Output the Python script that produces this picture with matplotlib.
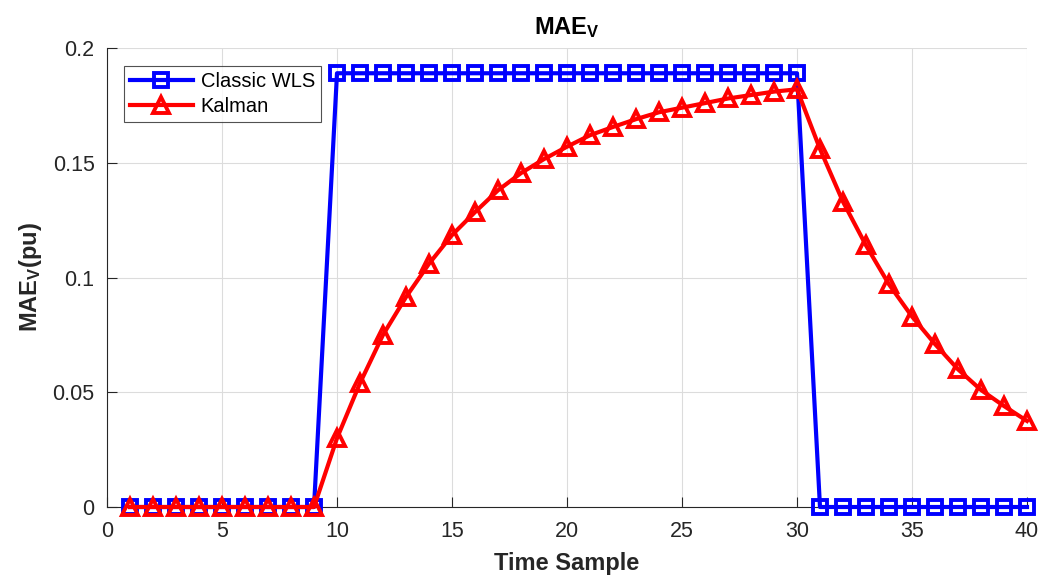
import matplotlib
matplotlib.use("Agg")
import matplotlib.pyplot as plt

plt.rcParams['font.family'] = ['Liberation Sans', 'DejaVu Sans']
plt.rcParams['mathtext.fontset'] = 'custom'
plt.rcParams['mathtext.rm'] = 'Liberation Sans'
plt.rcParams['mathtext.bf'] = 'Liberation Sans:bold'
plt.rcParams['mathtext.it'] = 'Liberation Sans:italic'

t = list(range(1, 41))
wls = [0.0]*9 + [0.189]*21 + [0.0]*10
kalman = [0.0]*9 + [0.030, 0.054, 0.075, 0.0915, 0.106, 0.1185, 0.1285, 0.138, 0.1455, 0.1516,
                    0.157, 0.162, 0.1656, 0.169, 0.172, 0.174, 0.176, 0.178, 0.1795, 0.181, 0.182,
                    0.156, 0.133, 0.114, 0.097, 0.083, 0.071, 0.060, 0.051, 0.044, 0.0375]
xticks = [0, 5, 10, 15, 20, 25, 30, 35, 40]
yticks = [0, 0.05, 0.1, 0.15, 0.2]
yticklabels = ['0', '0.05', '0.1', '0.15', '0.2']

fig = plt.figure(figsize=(10.42, 5.77), dpi=100)
ax = fig.add_axes([0.1027, 0.1213, 0.8829, 0.7955])

ax.plot(t, wls, color='#0000ff', lw=3, marker='s', ms=9.5, mew=2.8, mfc='none',
        mec='#0000ff', label='Classic WLS', clip_on=False, zorder=3)
ax.plot(t, kalman, color='#ff0000', lw=3, marker='^', ms=12, mew=2.8, mfc='none',
        mec='#ff0000', label='Kalman', clip_on=False, zorder=4)

ax.set_xlim(0, 40)
ax.set_ylim(0, 0.2)
ax.set_xticks(xticks)
ax.set_yticks(yticks)
ax.set_yticklabels(yticklabels)
ax.tick_params(direction='in', colors='#262626', labelsize=15.5, length=7, width=0.8)
ax.tick_params(axis='x', pad=10)
ax.tick_params(axis='y', pad=9)
ax.grid(True, color='#dcdcdc', lw=0.8)
ax.set_axisbelow(True)
for s in ['top', 'right']:
    ax.spines[s].set_visible(False)
for s in ['left', 'bottom']:
    ax.spines[s].set_color('#262626')
    ax.spines[s].set_linewidth(0.8)

ax.set_title(r'$\mathbf{MAE_V}$', fontsize=17, color='#000000', pad=10)
ax.set_xlabel('Time Sample', fontsize=17, fontweight='bold', color='#262626', labelpad=7)
ax.set_ylabel(r'$\mathbf{MAE_V(pu)}$', fontsize=17, color='#262626', labelpad=6)

leg = ax.legend(loc='upper left', bbox_to_anchor=(0.0185, 0.961), fontsize=14.5, frameon=True,
                fancybox=False, edgecolor='#262626', handlelength=3.1, borderpad=0.3,
                labelspacing=0.3, handletextpad=0.4, borderaxespad=0)
leg.get_frame().set_linewidth(0.8)

fig.savefig('out.png', dpi=100)
